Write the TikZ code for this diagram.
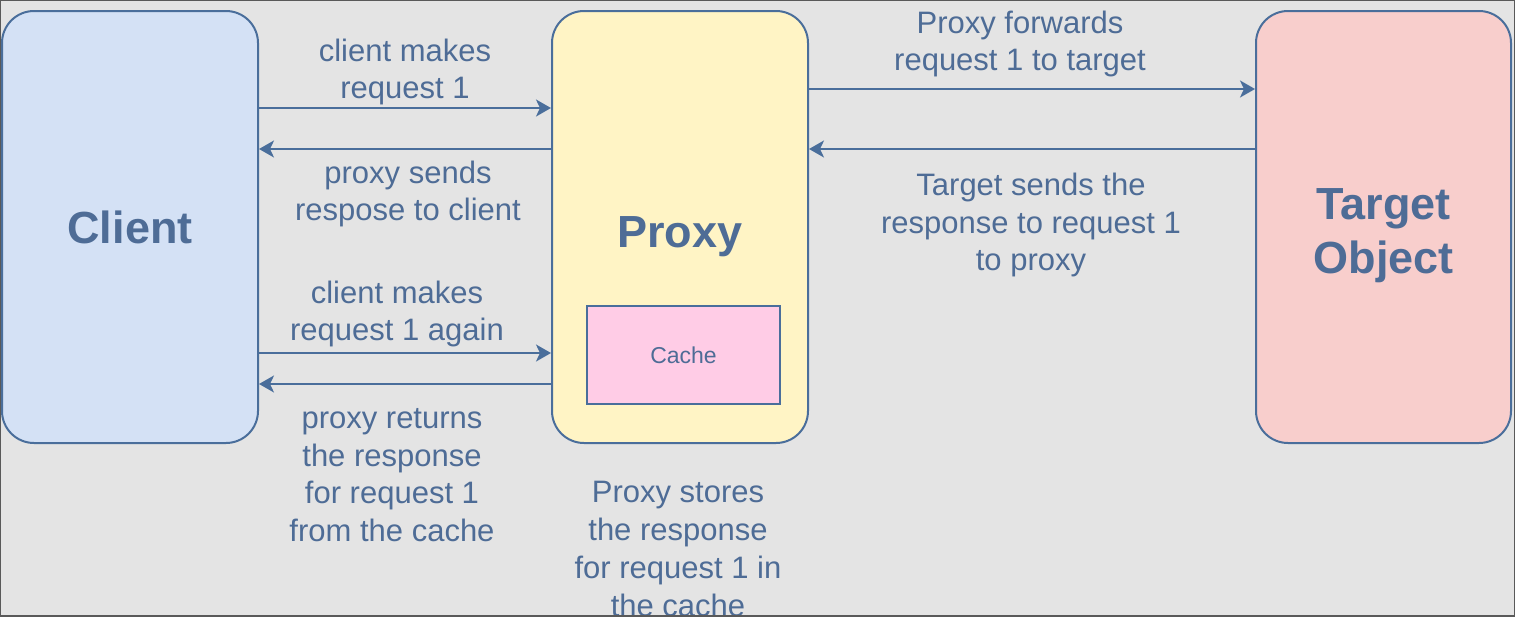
\documentclass[tikz,border=0pt]{standalone}
\usepackage{fontspec}
\setmainfont{Liberation Sans}
\usetikzlibrary{arrows.meta}

\definecolor{edge}{RGB}{74,110,155}
\definecolor{txt}{RGB}{78,108,150}
\definecolor{bg}{RGB}{228,228,228}
\definecolor{clientfill}{RGB}{212,225,245}
\definecolor{proxyfill}{RGB}{255,244,197}
\definecolor{targetfill}{RGB}{248,206,204}
\definecolor{cachefill}{RGB}{255,204,230}

\begin{document}
\begin{tikzpicture}[x=1pt,y=-1pt,
  box/.style={draw=edge, line width=2pt, rounded corners=32pt, minimum width=256pt, minimum height=432pt, text=txt, align=center, font=\fontsize{45}{54}\selectfont\bfseries},
  lbl/.style={text=txt, align=center, inner sep=0pt, font=\fontsize{31}{37.7}\selectfont},
  flow/.style={draw=edge, line width=2pt, -{Stealth[length=15pt,width=17pt,inset=4pt]}}]
\useasboundingbox (0,0) rectangle (1515,616);
\fill[bg] (0,0) rectangle (1515,616);
\clip (0,0) rectangle (1515,616);

%nodes
\node[box, fill=clientfill] (client) at (130,227) {Client};
\node[box, fill=proxyfill, text height=40.7pt, text depth=0pt] (proxy) at (680,227) {Proxy};
\node[box, fill=targetfill, minimum width=255pt, text height=93.3pt, text depth=0pt] (target) at (1383.5,227) {Target\\Object};
\node[draw=edge, line width=1.6pt, fill=cachefill, minimum width=193pt, minimum height=98pt, text=txt, font=\fontsize{23}{28}\selectfont] (cache) at (683.5,355) {Cache};

%labels
\node[lbl] (req) at (405,72) {client makes\\request 1};
\node[lbl] (resp) at (408,194) {proxy sends\\respose to client};
\node[lbl] (again) at (397,314) {client makes\\request 1 again};
\node[lbl] (fromcache) at (392,475) {proxy returns\\the response\\for request 1\\from the cache};
\node[lbl] (fwd) at (1020,44) {Proxy forwards\\request 1 to target};
\node[lbl] (tresp) at (1031,225) {Target sends the\\response to request 1\\to proxy};
\node[lbl] (store) at (678,549) {Proxy stores\\the response\\for request 1 in\\the cache};

%connections
\draw[flow] (client.east |- 0,108) -- (proxy.west |- 0,108);
\draw[flow] (proxy.west |- 0,149) -- (client.east |- 0,149);
\draw[flow] (client.east |- 0,353) -- (proxy.west |- 0,353);
\draw[flow] (proxy.west |- 0,384) -- (client.east |- 0,384);
\draw[flow] (proxy.east |- 0,89) -- (target.west |- 0,89);
\draw[flow] (target.west |- 0,149) -- (proxy.east |- 0,149);

%frame
\draw[black!65, line width=2pt] (0,0) rectangle (1515,616);
\end{tikzpicture}
\end{document}
